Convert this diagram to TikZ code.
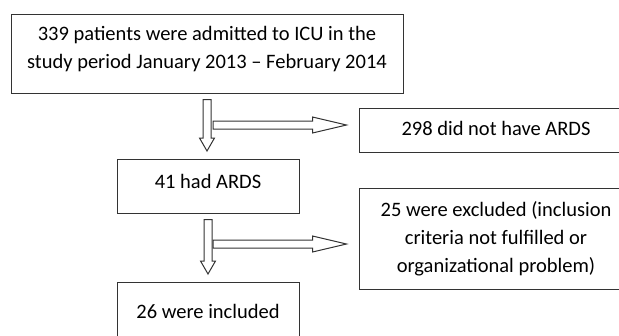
\documentclass[tikz,border=0pt]{standalone}
\usepackage{fontspec}
\setmainfont{Carlito}
\usetikzlibrary{calc}

\tikzset{
  flowbox/.style={draw=black!80, line width=1pt, rectangle, align=center,
                  inner xsep=0pt, inner ysep=0pt, anchor=base,
                  font=\fontsize{20.5}{28}\selectfont},
  hollow/.style={draw=black!80, line width=1pt, fill=white}
}

% hollow block arrow pointing down, from one box to the next
\newcommand{\downblock}[2]{%
  \draw[hollow] let \p1=($(#1.south)+(0,6)$), \p2=($(#2.north)+(0,-7.5)$) in
    (\x1-4pt,\y1) -- (\x1+4pt,\y1) -- (\x1+4pt,\y2+13pt) -- (\x1+7.5pt,\y2+13pt)
    -- (\x1,\y2) -- (\x1-7.5pt,\y2+13pt) -- (\x1-4pt,\y2+13pt) -- cycle;}
% hollow block arrow pointing right, towards a box
\newcommand{\sideblock}[2]{%
  \draw[hollow] let \p1=#1, \p2=($(#2.west)+(-12,0)$) in
    (\x1,\y1-4pt) -- (\x2-34pt,\y1-4pt) -- (\x2-34pt,\y1-8pt) -- (\x2,\y1)
    -- (\x2-34pt,\y1+8pt) -- (\x2-34pt,\y1+4pt) -- (\x1,\y1+4pt) -- cycle;}

\begin{document}
\begin{tikzpicture}[x=1pt, y=-1pt]
  \clip (0,0) rectangle (619,335);

  \node (admitted) [flowbox, minimum width=392pt, text height=54pt, text depth=25pt]
        at (207,68)
        {339 patients were admitted to ICU in the\\study period January 2013 -- February 2014};
  \node (noards) [flowbox, minimum width=274pt, text height=27pt, text depth=17pt]
        at (496,135) {298 did not have ARDS};
  \node (ards) [flowbox, minimum width=182pt, text height=29pt, text depth=25pt]
        at (208,188) {41 had ARDS};
  \node (excluded) [flowbox, minimum width=274pt, text height=84pt, text depth=17pt]
        at (496,272)
        {25 were excluded (inclusion\\criteria not fulfilled or\\organizational problem)};
  \node (included) [flowbox, minimum width=182pt, text height=36pt, text depth=30pt]
        at (208,318) {26 were included};

  \downblock{admitted}{ards}
  \sideblock{(213,125)}{noards}
  \downblock{ards}{included}
  \sideblock{(213,244)}{excluded}
\end{tikzpicture}
\end{document}
